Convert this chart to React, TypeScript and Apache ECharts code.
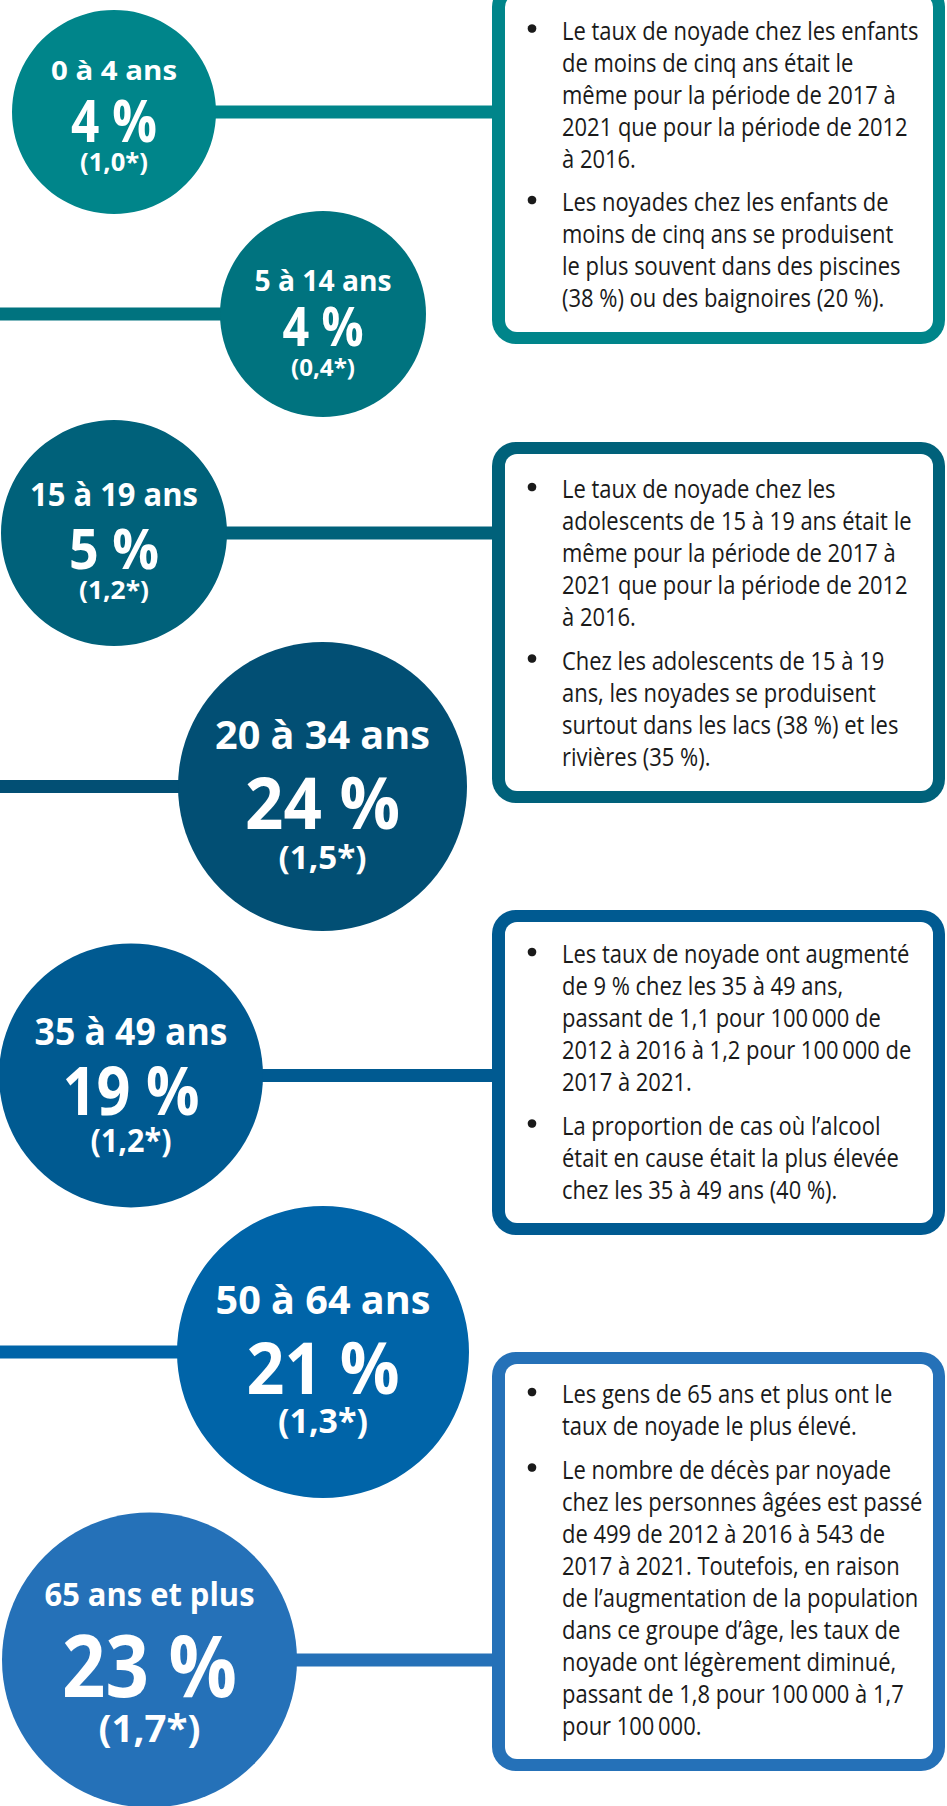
import React, { useEffect, useRef } from "react";
import * as echarts from "echarts";

const ageGroups = ["0 à 4 ans", "5 à 14 ans", "15 à 19 ans", "20 à 34 ans", "35 à 49 ans", "50 à 64 ans", "65 ans et plus"];
const shares = ["4 %", "4 %", "5 %", "24 %", "19 %", "21 %", "23 %"];
const rates = ["(1,0*)", "(0,4*)", "(1,2*)", "(1,5*)", "(1,2*)", "(1,3*)", "(1,7*)"];
const groupColors = ["#00858A", "#00737F", "#00617A", "#024F74", "#005A91", "#0064A8", "#2571B8"];

const box1 = [
  ["Le taux de noyade chez les enfants", "de moins de cinq ans était le", "même pour la période de 2017 à", "2021 que pour la période de 2012", "à 2016."],
  ["Les noyades chez les enfants de", "moins de cinq ans se produisent", "le plus souvent dans des piscines", "(38 %) ou des baignoires (20 %)."],
];
const box2 = [
  ["Le taux de noyade chez les", "adolescents de 15 à 19 ans était le", "même pour la période de 2017 à", "2021 que pour la période de 2012", "à 2016."],
  ["Chez les adolescents de 15 à 19", "ans, les noyades se produisent", "surtout dans les lacs (38 %) et les", "rivières (35 %)."],
];
const box3 = [
  ["Les taux de noyade ont augmenté", "de 9 % chez les 35 à 49 ans,", "passant de 1,1 pour 100\u2009000 de", "2012 à 2016 à 1,2 pour 100\u2009000 de", "2017 à 2021."],
  ["La proportion de cas où l’alcool", "était en cause était la plus élevée", "chez les 35 à 49 ans (40 %)."],
];
const box4 = [
  ["Les gens de 65 ans et plus ont le", "taux de noyade le plus élevé."],
  ["Le nombre de décès par noyade", "chez les personnes âgées est passé", "de 499 de 2012 à 2016 à 543 de", "2017 à 2021. Toutefois, en raison", "de l’augmentation de la population", "dans ce groupe d’âge, les taux de", "noyade ont légèrement diminué,", "passant de 1,8 pour 100\u2009000 à 1,7", "pour 100\u2009000."],
];
const boxes = [box1, box2, box3, box4];

// layout: circle geometry, and for each of the 3 lines [target width, font size, vertical offset]
const circles = [
  { cx: 114, cy: 112, r: 102, side: "right", w: [126, 86, 68], fs: [27, 60, 25], dy: [-42.5, 6.5, 52.5] },
  { cx: 323, cy: 314, r: 103, side: "left", w: [137, 81, 64], fs: [29, 53, 24], dy: [-35, 11.5, 55] },
  { cx: 114, cy: 533, r: 113, side: "right", w: [168, 90, 70], fs: [32, 56, 25], dy: [-39.5, 14, 59.5] },
  { cx: 322.5, cy: 786.5, r: 144.5, side: "left", w: [215, 155, 88], fs: [40, 72, 32], dy: [-53.5, 14.5, 74.5] },
  { cx: 131, cy: 1075.5, r: 132, side: "right", w: [193, 137, 81], fs: [37.5, 67, 32], dy: [-45, 13.5, 68.5] },
  { cx: 323, cy: 1352, r: 146, side: "left", w: [215, 153, 90], fs: [39, 72, 34], dy: [-53, 14, 72] },
  { cx: 149.5, cy: 1660, r: 147.5, side: "right", w: [210, 175, 102], fs: [31.5, 86, 38], dy: [-66, 4, 72] },
];
const boxLayout = [
  { top: -17, bottom: 344, color: 0, textTop: 13.5 },
  { top: 442, bottom: 803, color: 2, textTop: 472 },
  { top: 910, bottom: 1235, color: 4, textTop: 937 },
  { top: 1352, bottom: 1771, color: 6, textTop: 1377 },
];

const FONT = '"Open Sans", "Noto Sans", "Liberation Sans", sans-serif';

export default function App() {
  const ref = useRef<HTMLDivElement>(null);
  useEffect(() => {
    document.body.style.margin = "0";
    const ctx = document.createElement("canvas").getContext("2d")!;
    const measure = (t: string, size: number, weight: string) => {
      ctx.font = `${weight} ${size}px ${FONT}`;
      return ctx.measureText(t).width;
    };
    const chart = echarts.init(ref.current!, undefined, { renderer: "svg" });
    const g: any[] = [];
    const boxLeft = 492, boxRight = 945, bw = 12, lineH = 13;
    const BODY = 26;
    const bodyScale = (351 + 329) / (measure("Le taux de noyade chez les enfants", BODY, "normal") + measure("de 499 de 2012 à 2016 à 543 de", BODY, "normal"));
    // connector lines
    circles.forEach((c, i) => {
      const x1 = c.side === "right" ? c.cx : 0;
      const x2 = c.side === "right" ? boxLeft + 2 : c.cx;
      g.push({ type: "rect", shape: { x: x1, y: c.cy - lineH / 2, width: x2 - x1, height: lineH }, style: { fill: groupColors[i] }, z: 1 });
    });
    // boxes
    boxLayout.forEach((b, i) => {
      const col = groupColors[b.color];
      g.push({ type: "rect", shape: { x: boxLeft, y: b.top, width: boxRight - boxLeft, height: b.bottom - b.top, r: 24 }, style: { fill: col }, z: 2 });
      g.push({ type: "rect", shape: { x: boxLeft + bw + 1, y: b.top + bw, width: boxRight - boxLeft - 2 * bw - 1, height: b.bottom - b.top - 2 * bw, r: 12 }, style: { fill: "#ffffff" }, z: 3 });
      let y = b.textTop;
      boxes[i].forEach((para) => {
        g.push({ type: "circle", shape: { cx: 532, cy: y + 15, r: 4.3 }, style: { fill: "#1a1a1a" }, z: 4 });
        g.push({ type: "text", x: 562, y: y, scaleX: bodyScale, z: 4, style: { text: para.join("\n"), fill: "#1a1a1a", fontSize: BODY, lineHeight: 32, fontFamily: FONT, align: "left", verticalAlign: "top" } });
        y += para.length * 32 + 11.5;
      });
    });
    // circles
    circles.forEach((c, i) => {
      g.push({ type: "circle", shape: { cx: c.cx, cy: c.cy, r: c.r }, style: { fill: groupColors[i] }, z: 5 });
      const texts = [ageGroups[i], shares[i], rates[i]];
      texts.forEach((t, k) => {
        const fs = c.fs[k];
        const sx = c.w[k] / measure(t, fs, "bold");
        const off = k === 2 ? -0.12 * fs : 0;
        g.push({ type: "text", x: c.cx, y: c.cy + c.dy[k] + off, scaleX: sx, z: 6, style: { text: t, fill: "#ffffff", fontSize: fs, fontWeight: "bold", fontFamily: FONT, align: "center", verticalAlign: "middle" } });
      });
    });
    chart.setOption({ animation: false, backgroundColor: "#ffffff", graphic: g });
    return () => chart.dispose();
  }, []);
  return <div ref={ref} style={{ width: 947, height: 1806 }} />;
}
